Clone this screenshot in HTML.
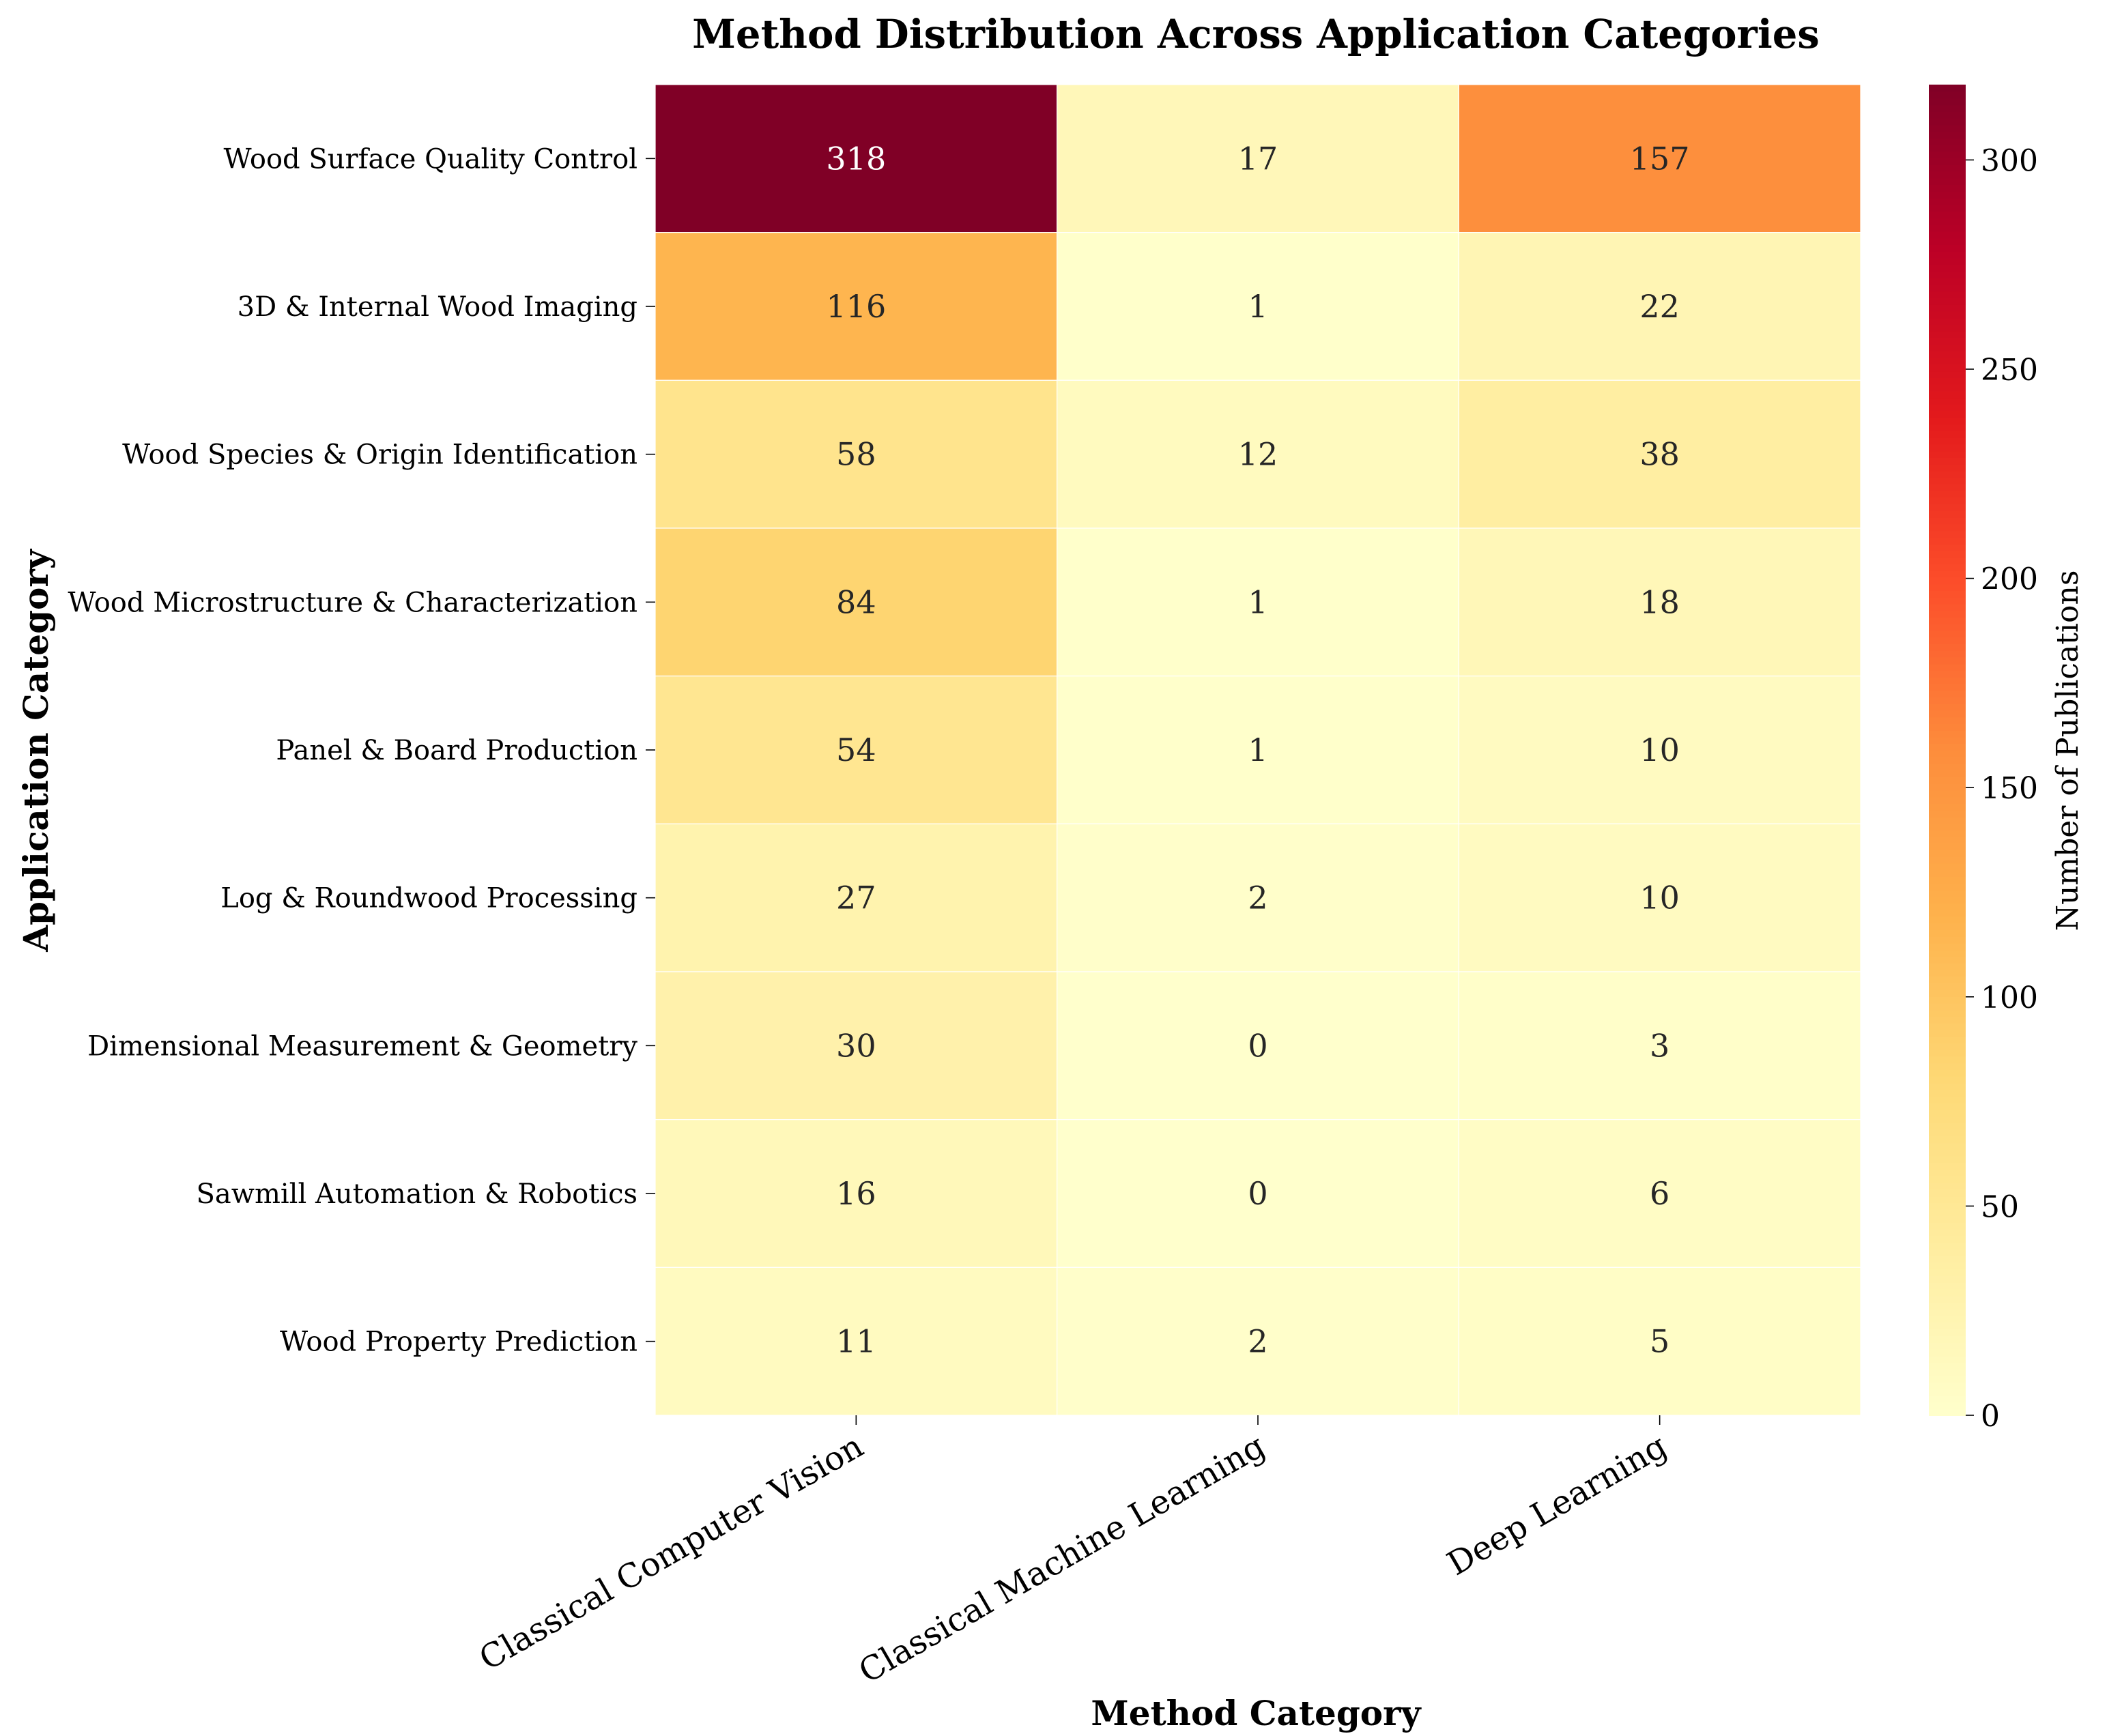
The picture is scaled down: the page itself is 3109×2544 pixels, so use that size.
<!DOCTYPE html>
<html><head><meta charset="utf-8"><style>
html,body{margin:0;padding:0;background:#fff}
svg{display:block;font-family:"DejaVu Serif","Liberation Serif",serif}
</style></head><body>
<svg id="chart" width="3109" height="2544" viewBox="0 0 1554.5 1272" xmlns="http://www.w3.org/2000/svg">
<rect width="1554.5" height="1272" fill="#fff"/>
<text x="920" y="35" text-anchor="middle" font-size="28.8" font-weight="bold">Method Distribution Across Application Categories</text>
<text transform="translate(35,550) rotate(-90)" text-anchor="middle" font-size="25" font-weight="bold">Application Category</text>
<text x="920" y="1264" text-anchor="middle" font-size="25" font-weight="bold">Method Category</text>
<g id="cells"></g><g id="ylabels"></g><g id="xlabels"></g><g id="cbar"></g>
<text transform="translate(1522,550) rotate(-90)" text-anchor="middle" font-size="22">Number of Publications</text>
</svg>
<script>
const rows=["Wood Surface Quality Control","3D & Internal Wood Imaging","Wood Species & Origin Identification","Wood Microstructure & Characterization","Panel & Board Production","Log & Roundwood Processing","Dimensional Measurement & Geometry","Sawmill Automation & Robotics","Wood Property Prediction"];
const cols=["Classical Computer Vision","Classical Machine Learning","Deep Learning"];
const ccv=[318,116,58,84,54,27,30,16,11];
const cml=[17,1,12,1,1,2,0,0,2];
const dl=[157,22,38,18,10,10,3,6,5];
const cbTicks=[0,50,100,150,200,250,300];
const series=[ccv,cml,dl];
const NS="http://www.w3.org/2000/svg";
const X0=480,X1=1363,Y0=62,Y1=1037,vmax=318;
const cw=(X1-X0)/cols.length,rh=(Y1-Y0)/rows.length;
const stops=["#ffffcc","#ffeda0","#fed976","#feb24c","#fd8d3c","#fc4e2a","#e31a1c","#bd0026","#800026"].map(h=>[1,3,5].map(i=>parseInt(h.substr(i,2),16)));
function cmap(v){let t=Math.max(0,Math.min(1,v/vmax))*(stops.length-1);let i=Math.min(Math.floor(t),stops.length-2),f=t-i;const c=stops[i].map((a,k)=>a+(stops[i+1][k]-a)*f);return c;}
function rgb(c){return `rgb(${c.map(Math.round).join(",")})`;}
function lum(c){const l=c.map(x=>{x/=255;return x<=0.03928?x/12.92:Math.pow((x+0.055)/1.055,2.4)});return 0.2126*l[0]+0.7152*l[1]+0.0722*l[2];}
function el(t,a,p){const e=document.createElementNS(NS,t);for(const k in a)e.setAttribute(k,a[k]);p.appendChild(e);return e;}
const g=document.getElementById("cells");
series.forEach((s,j)=>s.forEach((v,i)=>{const c=cmap(v);
const r=el("rect",{x:X0+j*cw,y:Y0+i*rh,width:cw,height:rh,fill:rgb(c),stroke:"#fff","stroke-width":0.6},g);


const t=el("text",{x:X0+(j+0.5)*cw,y:Y0+(i+0.5)*rh+8,"text-anchor":"middle","font-size":23,fill:lum(c)>0.408?"#262626":"#fff"},g);t.textContent=v;


}));
const yl=document.getElementById("ylabels");
rows.forEach((r,i)=>{const y=Y0+(i+0.5)*rh;el("line",{x1:X0-7,x2:X0,y1:y,y2:y,stroke:"#000","stroke-width":0.8},yl);
const t=el("text",{x:X0-13,y:y+7,"text-anchor":"end","font-size":20},yl);t.textContent=r;

});
const xl=document.getElementById("xlabels");
cols.forEach((c,j)=>{const x=X0+(j+0.5)*cw;el("line",{x1:x,x2:x,y1:Y1,y2:Y1+7,stroke:"#000","stroke-width":0.8},xl);
const t=el("text",{transform:`translate(${x-2},${Y1+12}) rotate(-30)`,"text-anchor":"end","font-size":24,dy:"0.75em"},xl);t.textContent=c;

});
const cb=document.getElementById("cbar");const CX=1413,CW=27,N=200;
for(let k=0;k<N;k++){const v0=vmax*k/N;const y=Y1-(k+1)*(Y1-Y0)/N;el("rect",{x:CX,y:y,width:CW,height:(Y1-Y0)/N+0.5,fill:rgb(cmap(v0+vmax/N/2))},cb);}
cbTicks.forEach(v=>{const y=Y1-v/vmax*(Y1-Y0);el("line",{x1:CX+CW,x2:CX+CW+6,y1:y,y2:y,stroke:"#000","stroke-width":0.8},cb);
const t=el("text",{x:CX+CW+11,y:y+8,"font-size":22},cb);t.textContent=v;

});
</script>
</body></html>
